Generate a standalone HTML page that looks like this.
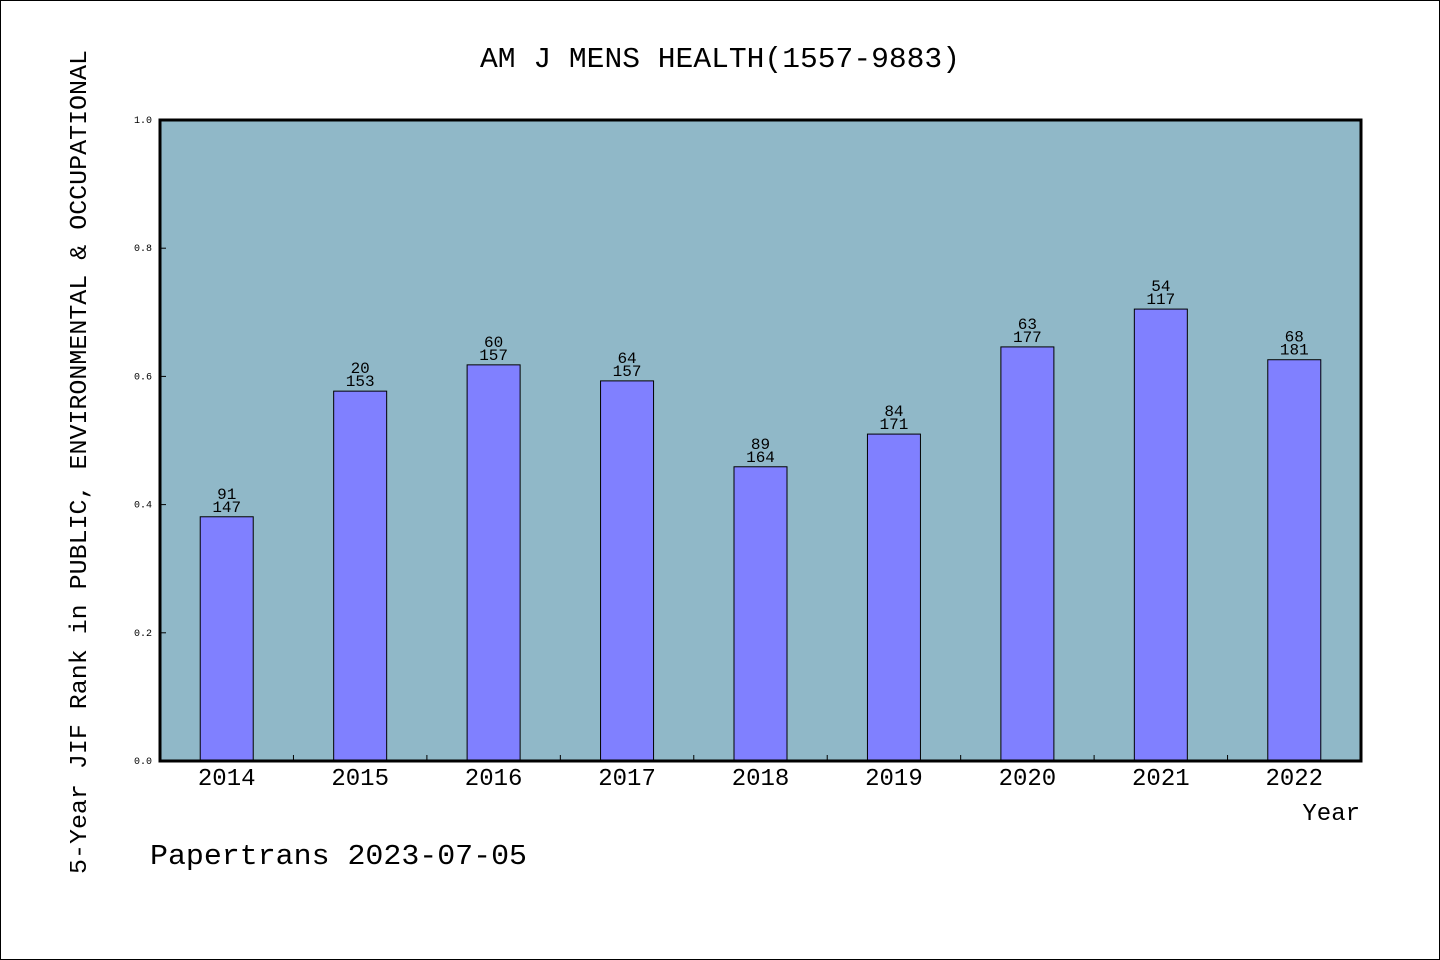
<!DOCTYPE html>
<html><head><meta charset="utf-8"><style>
html,body{margin:0;padding:0;background:#fff;}
svg{display:block;font-family:"Liberation Mono","DejaVu Sans Mono",monospace;}
</style></head><body>
<svg id="chart" width="1440" height="960" viewBox="0 0 1440 960" xmlns="http://www.w3.org/2000/svg">
<rect x="0.5" y="0.5" width="1439" height="959" fill="#fff" stroke="#000"/>
<text x="720" y="67" text-anchor="middle" font-size="29" textLength="480" lengthAdjust="spacingAndGlyphs">AM J MENS HEALTH(1557-9883)</text>
<rect x="160" y="120" width="1201" height="641" fill="#90b8c8"/>
<g id="bars"></g>
<g id="axes"></g>
<rect x="160" y="120" width="1201" height="641" fill="none" stroke="#000" stroke-width="3"/>
<text x="1360" y="820" text-anchor="end" font-size="24">Year</text>
<text transform="translate(86,462) rotate(-90)" text-anchor="middle" font-size="24" textLength="824" lengthAdjust="spacingAndGlyphs">5-Year JIF Rank in PUBLIC, ENVIRONMENTAL &amp; OCCUPATIONAL</text>
<text x="150" y="864" font-size="29" textLength="377" lengthAdjust="spacingAndGlyphs">Papertrans 2023-07-05</text>
</svg>
<script>
const years = ["2014","2015","2016","2017","2018","2019","2020","2021","2022"];
const values = [0.381, 0.577, 0.618, 0.593, 0.459, 0.510, 0.646, 0.705, 0.626];
const ranks = ["91","20","60","64","89","84","63","54","68"];
const totals = ["147","153","157","157","164","171","177","117","181"];
const yTicks = [0, 0.2, 0.4, 0.6, 0.8, 1.0];
const yTickLabels = ["0.0","0.2","0.4","0.6","0.8","1.0"];

const NS = "http://www.w3.org/2000/svg";
const L = 160, R = 1361, T = 120, B = 761;
const step = (R - L) / years.length;
const xC = i => L + step * (i + 0.5);
const yS = v => B - v * (B - T);
function mk(tag, attrs, parent, txt){
  const e = document.createElementNS(NS, tag);
  for (const k in attrs) e.setAttribute(k, attrs[k]);
  if (txt !== undefined) e.textContent = txt;
  parent.appendChild(e); return e;
}
const gb = document.getElementById("bars"), ga = document.getElementById("axes");
years.forEach((y, i) => {
  const bw = 53, x = xC(i) - bw / 2, top = yS(values[i]);
  const r = mk("rect", {x: x, y: top, width: bw, height: B - top, fill: "#8080ff", stroke: "#000", "stroke-width": 1}, gb);
  
  
  const t1 = mk("text", {x: xC(i), y: top - 18, "text-anchor": "middle", "font-size": 16}, gb, ranks[i]);
  
  
  const t2 = mk("text", {x: xC(i), y: top - 5, "text-anchor": "middle", "font-size": 16}, gb, totals[i]);
  
  
  const xl = mk("text", {x: xC(i), y: 785, "text-anchor": "middle", "font-size": 24}, ga, y);
  
  
  if (i > 0) {
    const tk = mk("line", {x1: L + step * i, x2: L + step * i, y1: B, y2: B - 6, stroke: "#000"}, ga);
    
    
  }
});
yTicks.forEach((v, i) => {
  const tk = mk("line", {x1: L, x2: L + 6, y1: yS(v), y2: yS(v), stroke: "#000"}, ga);
  
  
  const tl = mk("text", {x: 152, y: yS(v) + 3, "text-anchor": "end", "font-size": 10}, ga, yTickLabels[i]);
  
  
});
</script>
</body></html>
